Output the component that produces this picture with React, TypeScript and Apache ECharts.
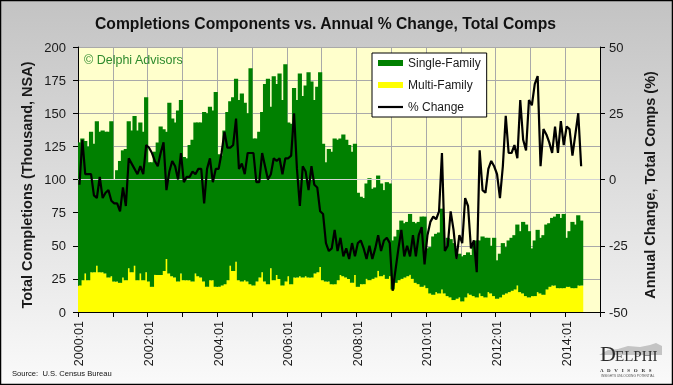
import React, { useEffect, useRef } from "react";
import * as echarts from "echarts";

// ---------- categories ----------
const years = [2000, 2001, 2002, 2003, 2004, 2005, 2006, 2007, 2008, 2009, 2010, 2011, 2012, 2013, 2014];
const monthNums = ["01", "02", "03", "04", "05", "06", "07", "08", "09", "10", "11", "12"];
const categories: string[] = years.flatMap((y) => monthNums.map((m) => `${y}:${m}`));

// ---------- series values (thousand units, NSA), 2000:01 .. 2014:06 ----------
const singleFamily = [
  108, 107, 100, 101, 106, 97, 109, 106, 107, 107, 110, 117, // 2000
  77, 84, 92, 96, 99, 111, 107, 113, 113, 114, 112, 132, // 2001
  90, 94, 93, 100, 112, 107, 96, 129, 119, 117, 129, 131, // 2002
  93, 92, 102, 107, 114, 116, 117, 128, 131, 131, 128, 147, // 2003
  100, 98, 116, 127, 124, 131, 138, 136, 142, 134, 127, 163, // 2004
  111, 108, 110, 121, 149, 155, 122, 154, 144, 155, 140, 164, // 2005
  116, 121, 143, 134, 153, 137, 144, 155, 148, 131, 140, 147, // 2006
  103, 90, 100, 100, 110, 106, 103, 107, 104, 101, 99, 99, // 2007
  71, 66, 65, 72, 77, 68, 68, 72, 70, 64, 73, 70, // 2008
  37, 35, 38, 44, 41, 41, 46, 43, 45, 47, 53, 52, // 2009
  30, 35, 44, 44, 46, 61, 33, 44, 44, 43, 30, 33, // 2010
  34, 32, 31, 30, 38, 43, 40, 45, 45, 41, 36, 44, // 2011
  29, 33, 39, 35, 39, 40, 41, 46, 46, 54, 54, 50, // 2012
  36, 42, 47, 42, 45, 49, 48, 51, 52, 56, 53, 56, // 2013
  37, 42, 50, 48, 53, 49, // 2014
];

const multiFamily = [
  20, 24, 29, 24, 30, 30, 35, 30, 30, 29, 26, 27, // 2000
  23, 23, 22, 26, 24, 33, 30, 35, 24, 29, 24, 30, // 2001
  23, 19, 28, 28, 28, 31, 40, 29, 27, 26, 23, 29, // 2002
  24, 24, 24, 23, 29, 27, 26, 23, 19, 24, 24, 19, // 2003
  19, 20, 21, 24, 35, 31, 38, 24, 23, 24, 23, 21, // 2004
  20, 23, 26, 30, 23, 21, 33, 24, 28, 25, 20, 23, // 2005
  27, 21, 26, 26, 27, 26, 27, 26, 26, 29, 30, 34, // 2006
  24, 23, 23, 21, 21, 24, 28, 27, 26, 25, 22, 28, // 2007
  19, 21, 21, 25, 24, 25, 26, 31, 27, 28, 25, 27, // 2008
  17, 22, 24, 25, 26, 27, 28, 25, 22, 21, 19, 20, // 2009
  18, 14, 13, 15, 14, 17, 14, 12, 11, 9, 10, 11, // 2010
  8, 11, 14, 13, 12, 11, 14, 12, 11, 15, 14, 12, // 2011
  10, 11, 13, 14, 15, 16, 17, 20, 15, 14, 12, 11, // 2012
  12, 12, 15, 14, 13, 17, 19, 20, 20, 18, 18, 18, // 2013
  19, 19, 18, 18, 20, 20, // 2014
];

const pctChange = [
  -2, 15, 2, 2, 2, -6, -7, 1, -7, -5, -4, -8, // 2000
  -9, -9, -12, -3, -10, 8, 6, 4, 2, 5, 2, 13, // 2001
  12, 10, 7, 5, 10, 14, -4, 3, 7, 5, 0, 10, // 2002
  -1, 1, 1, 3, 2, 4, 4, -9, 4, 8, -1, 4, // 2003
  4, 10, 18, 12, 12, 13, 23, 4, 6, 2, 10, 10, // 2004
  10, -1, -1, 10, 5, 0, 2, 8, 7, 8, 2, 8, // 2005
  8, 9, 25, 4, -10, 5, 3, -4, 5, -2, -3, -12, // 2006
  -13, -24, -27, -26, -19, -27, -22, -29, -26, -30, -24, -29, // 2007
  -24, -23, -26, -30, -25, -30, -26, -21, -27, -23, -22, -24, // 2008
  -42, -34, -26, -19, -29, -25, -29, -21, -29, -21, -18, -32, // 2009
  -21, -16, -14, -15, -12, 10, -27, -25, -12, -19, -30, -21, // 2010
  -24, -7, -10, -26, -23, -35, 11, -4, -5, 4, 7, 5, // 2011
  2, -7, 5, 24, 10, 10, 13, 8, 30, 15, 11, 30, // 2012
  28, 36, 39, 5, 19, 17, 14, 10, 20, 10, 22, 13, // 2013
  20, 19, 9, 17, 25, 5, // 2014
];

// ---------- axis settings ----------
const leftAxis = { min: 0, max: 200, step: 25 };
const rightAxis = { min: -50, max: 50, step: 25 };

const titleText = "Completions Components vs. Annual % Change, Total Comps";
const leftName = "Total Completions (Thousand, NSA)";
const rightName = "Annual Change, Total Comps (%)";
const sourceText = "Source:  U.S. Census Bureau";
const copyrightText = "\u00A9 Delphi Advisors";

const FONT = '"Liberation Sans", Arial, Helvetica, sans-serif';
const SERIF = '"Liberation Serif", "DejaVu Serif", serif';
const GRID_COLOR = "#a9a9a9";
const TEXT_COLOR = "#1a1a1a";

export default function App() {
  const ref = useRef<HTMLDivElement>(null);

  useEffect(() => {
    if (!ref.current) return;
    const chart = echarts.init(ref.current, undefined, { renderer: "svg" });

    const option: any = {
      animation: false,
      textStyle: { fontFamily: FONT },
      title: {
        text: titleText,
        left: 95,
        top: 15,
        padding: 0,
        textStyle: { fontSize: 15.7, fontWeight: "bold", color: "#111", fontFamily: FONT },
      },
      grid: {
        left: 78,
        right: 73,
        top: 47,
        bottom: 73,
        show: true,
        backgroundColor: "#ffffcc",
        borderWidth: 0,
        containLabel: false,
      },
      legend: {
        orient: "vertical",
        left: 372,
        top: 53,
        backgroundColor: "#ffffff",
        borderColor: "#000000",
        borderWidth: 1,
        borderRadius: 0,
        padding: [3, 6, 3, 6],
        itemGap: 8,
        itemWidth: 25,
        itemHeight: 6,
        textStyle: { fontSize: 12, color: TEXT_COLOR, fontFamily: FONT, lineHeight: 14 },
        data: [
          { name: "Single-Family", icon: "rect" },
          { name: "Multi-Family", icon: "rect" },
          { name: "% Change", icon: "path://M0,0 L25,0 L25,2.2 L0,2.2 Z" },
        ],
      },
      xAxis: {
        type: "category",
        data: categories,
        boundaryGap: true,
        axisLine: { show: true, lineStyle: { color: "#000", width: 1 } },
        axisTick: { show: true, interval: 11, length: 5, lineStyle: { color: "#000" } },
        axisLabel: { interval: 23, rotate: 90, fontSize: 12.5, margin: 9, color: TEXT_COLOR, fontFamily: FONT },
        splitLine: { show: true, interval: 11, lineStyle: { color: GRID_COLOR, width: 1 } },
      },
      yAxis: [
        {
          type: "value",
          position: "left",
          min: leftAxis.min,
          max: leftAxis.max,
          interval: leftAxis.step,
          axisLine: { show: true, lineStyle: { color: "#000", width: 1 } },
          axisTick: { show: true, length: 5, lineStyle: { color: "#000" } },
          axisLabel: { fontSize: 13, color: TEXT_COLOR, margin: 12, fontFamily: FONT },
          splitLine: { show: true, lineStyle: { color: GRID_COLOR, width: 1 } },
        },
        {
          type: "value",
          position: "right",
          min: rightAxis.min,
          max: rightAxis.max,
          interval: rightAxis.step,
          axisLine: { show: true, lineStyle: { color: "#000", width: 1 } },
          axisTick: { show: true, length: 5, lineStyle: { color: "#000" } },
          axisLabel: { fontSize: 13, color: TEXT_COLOR, margin: 9, fontFamily: FONT },
          splitLine: { show: false },
        },
      ],
      series: [
        {
          name: "Multi-Family",
          type: "bar",
          stack: "comps",
          data: multiFamily,
          barWidth: 4.2,
          itemStyle: { color: "#ffff00", borderWidth: 0 },
          emphasis: { disabled: true },
        },
        {
          name: "Single-Family",
          type: "bar",
          stack: "comps",
          data: singleFamily,
          barWidth: 4.2,
          itemStyle: { color: "#008000", borderWidth: 0 },
          emphasis: { disabled: true },
        },
        {
          name: "% Change",
          type: "line",
          yAxisIndex: 1,
          data: pctChange,
          symbol: "none",
          showSymbol: false,
          z: 10,
          lineStyle: { color: "#000", width: 2.2 },
          itemStyle: { color: "#000" },
          emphasis: { disabled: true },
          markLine: {
            silent: true,
            symbol: ["none", "none"],
            label: { show: false },
            lineStyle: { color: "#d4d4d4", width: 1, type: "solid" },
            data: [{ yAxis: 0 }],
          },
        },
      ],
      graphic: [
        {
          type: "rect",
          z: -10,
          shape: { x: 0, y: 0, width: 673, height: 385 },
          style: {
            fill: new echarts.graphic.LinearGradient(0, 0, 0, 1, [
              { offset: 0, color: "#c3c3c3" },
              { offset: 1, color: "#fafafa" },
            ]),
          },
          silent: true,
        },
        {
          type: "text",
          left: 84,
          top: 53,
          z: 20,
          style: { text: copyrightText, fill: "#2e8b2e", fontSize: 12.5, fontFamily: FONT },
        },
        {
          type: "text",
          x: 27,
          y: 185,
          rotation: Math.PI / 2,
          style: {
            text: leftName,
            fill: TEXT_COLOR,
            fontSize: 14.5,
            fontWeight: "bold",
            fontFamily: FONT,
            align: "center",
            verticalAlign: "middle",
          },
        },
        {
          type: "text",
          x: 650,
          y: 185,
          rotation: Math.PI / 2,
          style: {
            text: rightName,
            fill: TEXT_COLOR,
            fontSize: 14.5,
            fontWeight: "bold",
            fontFamily: FONT,
            align: "center",
            verticalAlign: "middle",
          },
        },
        {
          type: "text",
          x: 12,
          y: 373,
          style: {
            text: sourceText,
            fill: "#111",
            fontSize: 7.6,
            fontFamily: FONT,
            align: "left",
            verticalAlign: "middle",
          },
        },
        {
          type: "polygon",
          shape: {
            points: [
              [599, 355], [608, 350], [618, 349], [628, 346], [640, 347], [650, 345], [656, 343], [662, 346], [662, 355],
            ],
          },
          style: { fill: "#c4c4c4" },
          silent: true,
        },
        {
          type: "text",
          x: 600,
          y: 342,
          style: { text: "D", fill: "#2b2b2b", fontSize: 22, fontFamily: SERIF, align: "left", verticalAlign: "top" },
        },
        {
          type: "text",
          x: 615,
          y: 348.5,
          style: { text: "ELPHI", fill: "#2b2b2b", fontSize: 15, fontFamily: SERIF, align: "left", verticalAlign: "top" },
        },
        {
          type: "text",
          x: 600,
          y: 368,
          style: { text: "A   D   V   I   S   O   R   S", fill: "#2b2b2b", fontSize: 5, fontWeight: "bold", fontFamily: SERIF, align: "left", verticalAlign: "top" },
        },
        {
          type: "text",
          x: 601,
          y: 374.5,
          style: { text: "INSIGHTS UNLOCKING POTENTIAL", fill: "#555", fontSize: 3.2, fontFamily: FONT, align: "left", verticalAlign: "top" },
        },
        {
          type: "rect",
          z: 100,
          shape: { x: 0.5, y: 0.5, width: 672, height: 384 },
          style: { fill: "none", stroke: "#000", lineWidth: 1.5 },
          silent: true,
        },
      ],
    };

    chart.setOption(option);
    return () => chart.dispose();
  }, []);

  return (
    <div
      ref={ref}
      style={{ position: "fixed", left: 0, top: 0, width: 673, height: 385 }}
    />
  );
}
